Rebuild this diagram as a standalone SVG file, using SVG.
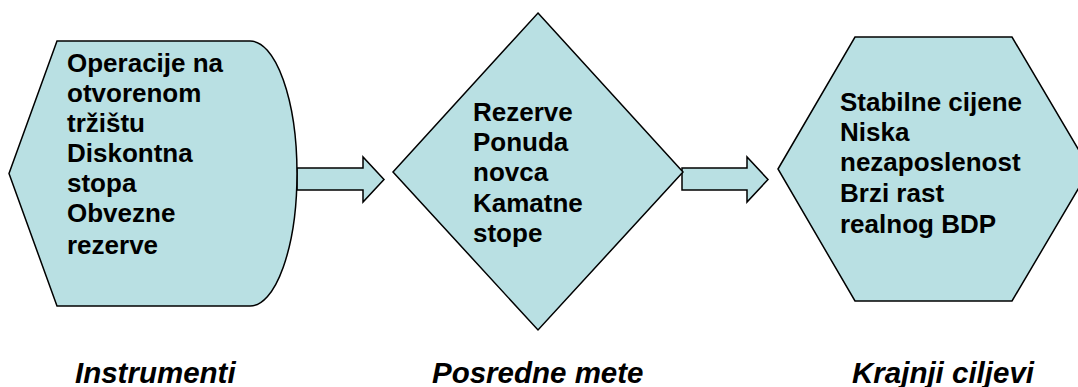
<svg xmlns="http://www.w3.org/2000/svg" width="1078" height="387" viewBox="0 0 1078 387">
  <style>
    .shape { fill: #b9e0e3; stroke: #000; stroke-width: 1.5; stroke-linejoin: miter; }
    .body { font-family: "Liberation Sans", Arial, sans-serif; font-weight: bold; font-size: 26px; fill: #000; }
    .caption { font-family: "Liberation Sans", Arial, sans-serif; font-weight: bold; font-style: italic; font-size: 29.5px; fill: #000; }
  </style>
  <rect width="1078" height="387" fill="#fff"/>

  <!-- block arrows between the stages -->
  <g id="connectors">
    <polygon class="shape" points="297,168 363,168 363,157 384,179.5 363,202 363,190 297,190"/>
    <polygon class="shape" points="682,168 747,168 747,157 768,179.5 747,202 747,190 682,190"/>
  </g>

  <!-- display-shaped node: instruments -->
  <g id="instrumenti">
    <path class="shape" d="M57,41 L250,41 A47,132.5 0 0 1 250,306 L57,306 L9,173.5 Z"/>
    <text class="body" x="67">
      <tspan x="67" y="72">Operacije na</tspan>
      <tspan x="67" y="102">otvorenom</tspan>
      <tspan x="67" y="132">tržištu</tspan>
      <tspan x="67" y="162">Diskontna</tspan>
      <tspan x="67" y="192">stopa</tspan>
      <tspan x="67" y="222">Obvezne</tspan>
      <tspan x="67" y="254">rezerve</tspan>
    </text>
  </g>

  <!-- diamond node: intermediate targets -->
  <g id="posredne-mete">
    <polygon class="shape" points="538,13 683,172 538,330 393,172"/>
    <text class="body">
      <tspan x="473" y="121">Rezerve</tspan>
      <tspan x="473" y="151">Ponuda</tspan>
      <tspan x="473" y="181">novca</tspan>
      <tspan x="473" y="212">Kamatne</tspan>
      <tspan x="473" y="242">stope</tspan>
    </text>
  </g>

  <!-- hexagon node: final goals -->
  <g id="krajnji-ciljevi">
    <polygon class="shape" points="778,169 855,37 1012,37 1090,169 1012,301 855,301"/>
    <text class="body">
      <tspan x="840" y="111">Stabilne cijene</tspan>
      <tspan x="840" y="141">Niska</tspan>
      <tspan x="840" y="171">nezaposlenost</tspan>
      <tspan x="840" y="202">Brzi rast</tspan>
      <tspan x="840" y="233">realnog BDP</tspan>
    </text>
  </g>

  <!-- stage captions -->
  <g id="captions">
    <text class="caption" x="75" y="383">Instrumenti</text>
    <text class="caption" x="432" y="383">Posredne mete</text>
    <text class="caption" x="852" y="383">Krajnji ciljevi</text>
  </g>
</svg>
